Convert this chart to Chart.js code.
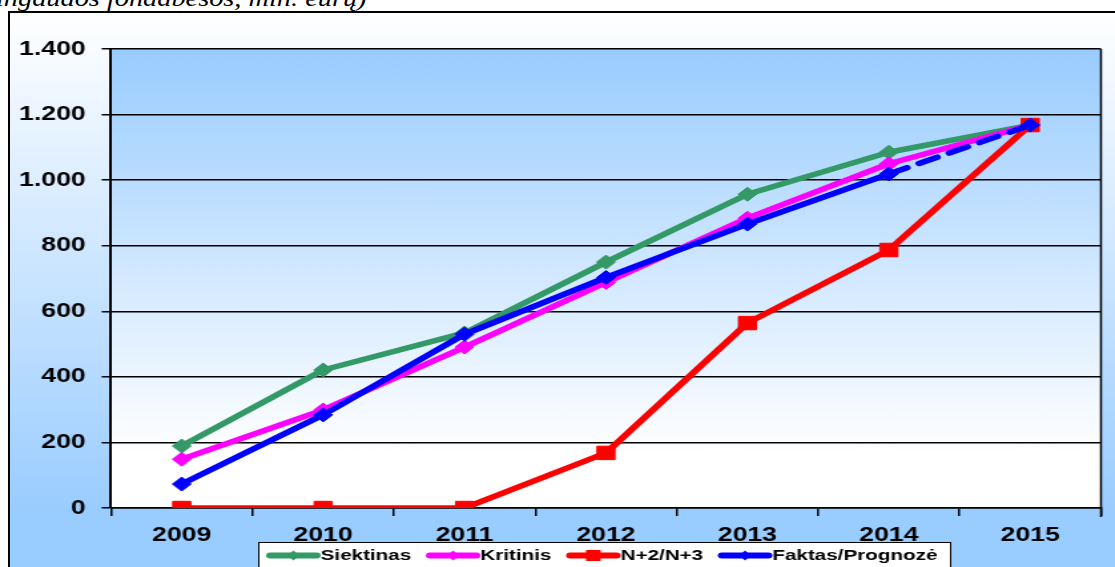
<!DOCTYPE html>
<html>
<head>
<meta charset="utf-8">
<script src="https://cdn.jsdelivr.net/npm/chart.js@4/dist/chart.umd.min.js"></script>
<style>
  html, body { margin: 0; padding: 0; background: #fff; overflow: hidden; }
  body { width: 1115px; height: 567px; position: relative; }
  #outer { position: absolute; left: 8px; top: 11px; width: 1200px; height: 600px;
    border-left: 2px solid #000; border-top: 2px solid #000;
    background: linear-gradient(to bottom, #ffffff 0px, #99ccff 500px, #99ccff 600px); }
  #title { position: absolute; left: -4px; top: -14px; white-space: nowrap;
    font-family: 'Liberation Serif', 'Times New Roman', serif; font-style: italic;
    font-size: 24px; line-height: 24px; color: #000; transform: scaleX(1.18); transform-origin: 0 0; }
  #wrap { position: absolute; left: 0; top: 0; width: 838px; height: 567px;
    transform: scaleX(1.3305); transform-origin: 0 0; }
</style>
</head>
<body>
<div id="outer"></div>
<div id="title">ingaudos fondabesos, mln. eurų)</div>
<div id="wrap"><canvas id="c"></canvas></div>
<script>
const years = ['2009', '2010', '2011', '2012', '2013', '2014', '2015'];
const yTickLabels = ['0', '200', '400', '600', '800', '1.000', '1.200', '1.400'];
const seriesNames = ['Siektinas', 'Kritinis', 'N+2/N+3', 'Faktas/Prognozė'];
const siektinas = [189, 421, 534, 750, 957, 1085, 1168];
const kritinis = [149, 299, 491, 688, 884, 1050, 1168];
const n2n3 = [0, 0, 0, 168, 564, 787, 1168];
const faktas = [73, 284, 530, 703, 866, 1019, 1168];

const FONT = "'Liberation Sans', Arial, sans-serif";

const bgPlugin = {
  id: 'bg',
  beforeDraw(chart) {
    const { ctx, chartArea: a } = chart;
    const g = ctx.createLinearGradient(0, a.top, 0, a.bottom);
    g.addColorStop(0, '#99ccff');
    g.addColorStop(0.88, '#ffffff');
    g.addColorStop(1, '#ffffff');
    ctx.save();
    ctx.fillStyle = g;
    ctx.fillRect(a.left, a.top, a.right - a.left, a.bottom - a.top);
    ctx.restore();
  },
  afterDraw(chart) {
    const { ctx, chartArea: a } = chart;
    ctx.save();
    ctx.strokeStyle = '#000';
    ctx.lineWidth = 1.5;
    ctx.beginPath();
    ctx.moveTo(a.right, a.top);
    ctx.lineTo(a.right, a.bottom + 9);
    ctx.stroke();
    ctx.restore();
  }
};

const legendPlugin = {
  id: 'customLegend',
  afterDraw(chart) {
    const ctx = chart.ctx;
    const boxL = 194, boxR = 714, boxT = 542;
    ctx.save();
    ctx.fillStyle = '#ffffff';
    ctx.fillRect(boxL, boxT, boxR - boxL, 40);
    ctx.strokeStyle = '#000';
    ctx.lineWidth = 1;
    ctx.strokeRect(boxL + 0.5, boxT + 0.5, boxR - boxL, 40);
    ctx.font = 'bold 15.5px ' + FONT;
    ctx.textBaseline = 'middle';
    ctx.textAlign = 'left';
    let x = 201;
    const y = 555.5;
    chart.data.datasets.forEach(ds => {
      ctx.strokeStyle = ds.borderColor;
      ctx.lineWidth = 6;
      ctx.lineCap = 'round';
      ctx.beginPath();
      ctx.moveTo(x + 2, y);
      ctx.lineTo(x + 37, y);
      ctx.stroke();
      ctx.fillStyle = ds.borderColor;
      ctx.beginPath();
      if (ds.pointStyle === 'rect') {
        ctx.rect(x + 19.5 - 5.5, y - 5.5, 11, 11);
      } else {
        ctx.moveTo(x + 19.5, y - 5);
        ctx.lineTo(x + 24, y);
        ctx.lineTo(x + 19.5, y + 5);
        ctx.lineTo(x + 15, y);
        ctx.closePath();
      }
      ctx.fill();
      ctx.fillStyle = '#000';
      ctx.fillText(ds.label, x + 40, y);
      x += 40 + ctx.measureText(ds.label).width + 12;
    });
    ctx.restore();
  }
};

function mk(label, data, color, style, radius, order, extra) {
  return Object.assign({
    label, data,
    borderColor: color, backgroundColor: color,
    pointBackgroundColor: color, pointBorderColor: color,
    pointStyle: style, pointRadius: radius, pointHoverRadius: radius,
    pointBorderWidth: 1,
    borderWidth: 5.5, tension: 0, fill: false, order,
    borderJoinStyle: 'round'
  }, extra || {});
}

new Chart(document.getElementById('c'), {
  type: 'line',
  data: {
    labels: years,
    datasets: [
      mk(seriesNames[0], siektinas, '#339966', 'rectRot', 7, 4),
      mk(seriesNames[1], kritinis, '#ff00ff', 'rectRot', 7, 3),
      mk(seriesNames[2], n2n3, '#ff0000', 'rect', 9.5, 2),
      mk(seriesNames[3], faktas, '#0000ff', 'rectRot', 7, 1, {
        segment: { borderDash: c => c.p0DataIndex >= 5 ? [15, 10] : undefined },
        borderCapStyle: 'round'
      })
    ]
  },
  options: {
    responsive: true,
    maintainAspectRatio: false,
    animation: false,
    events: [],
    layout: { padding: { left: 0, right: 4, top: 49, bottom: 0 } },
    plugins: { legend: { display: false }, tooltip: { enabled: false } },
    scales: {
      x: {
        offset: true,
        grid: { offset: true, drawOnChartArea: false, drawTicks: true, tickLength: 8, color: '#000', lineWidth: 1.5 },
        border: { display: true, color: '#000', width: 1.5 },
        ticks: { color: '#000', padding: 7, font: { family: FONT, size: 20, weight: 'bold' }, maxRotation: 0 },
        afterFit(s) { s.height = 59; }
      },
      y: {
        min: 0, max: 1400,
        ticks: {
          stepSize: 200, color: '#000', padding: 12,
          font: { family: FONT, size: 20, weight: 'bold' },
          callback: (v, i) => yTickLabels[i]
        },
        grid: { color: '#000', lineWidth: 1.5, tickLength: 7, drawTicks: true },
        border: { display: true, color: '#000', width: 2 },
        afterFit(s) { s.width = 83.4; }
      }
    }
  },
  plugins: [bgPlugin, legendPlugin]
});
</script>
</body>
</html>
